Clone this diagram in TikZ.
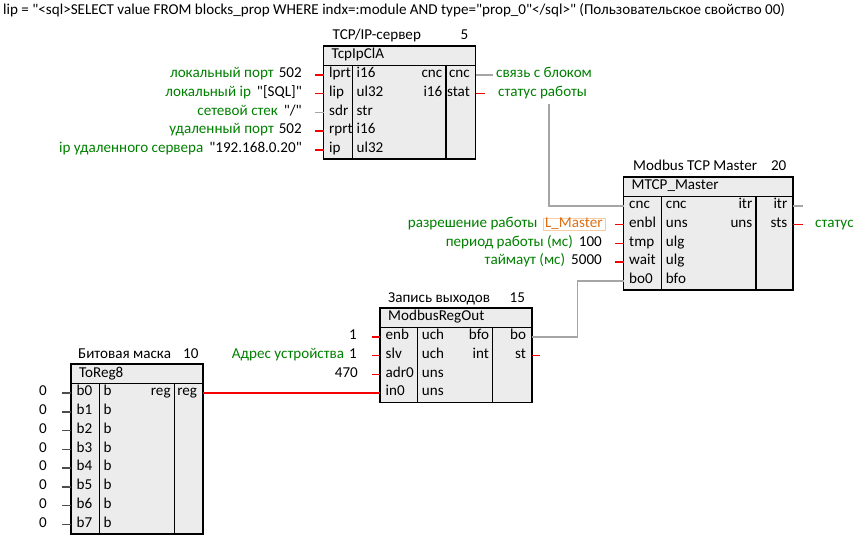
\documentclass[tikz,border=0pt]{standalone}
\usepackage{fontspec}
\setmainfont{Carlito}[Ligatures=TeXOff]
\definecolor{boxgray}{RGB}{236,236,236}
\definecolor{lblgreen}{RGB}{0,128,0}
\definecolor{wred}{RGB}{245,0,0}
\definecolor{wgray}{RGB}{165,165,165}
\definecolor{lmtext}{RGB}{220,110,20}
\definecolor{lmframe}{RGB}{248,205,165}
\newcommand\lab[1]{\textcolor{lblgreen}{#1}}
\tikzset{
  blockfill/.style={fill=boxgray},
  outerline/.style={draw=black, line width=1.8pt},
  innerline/.style={draw=black, line width=1.1pt},
  tl/.style={anchor=west, inner sep=0pt, text height=1.55ex, text depth=.35ex},
  tr/.style={anchor=east, inner sep=0pt, text height=1.55ex, text depth=.35ex},
  redw/.style={draw=wred, line width=1.5pt},
  grayw/.style={draw=wgray, line width=1.5pt},
  darkw/.style={draw=black!70, line width=1.5pt},
}
% #1 name, #2 left, #3 top, #4 right, #5 c1, #6 c2, #7 rows, #8 class, #9 row list
\newcommand\fblk[9]{%
  \pgfmathsetmacro\fbb{#3+19.5+#7*18.75}%
  \path[blockfill] (#2,#3) rectangle (#4,\fbb);
  \draw[innerline] (#2,#3+19.5) -- (#4,#3+19.5);
  \draw[innerline] (#5,#3+19.5) -- (#5,\fbb) (#6,#3+19.5) -- (#6,\fbb);
  \draw[outerline] (#2,#3) rectangle (#4,\fbb);
  \node[tl] (#1-cls) at (#2+8,#3+10) {#8};
  \foreach \a/\b/\c/\d [count=\i] in {#9}{%
    \pgfmathsetmacro\yy{#3+19.5+\i*18.75-9.375}%
    \coordinate (#1-l\i) at (#2,\yy);
    \coordinate (#1-r\i) at (#4,\yy);
    \node[tl] (#1-pi\i) at (#2+5.5,\yy) {\a};
    \node[tl] (#1-ty\i) at (#5+4,\yy) {\b};
    \node[tr] (#1-ot\i) at (#6-3.5,\yy) {\c};
    \node[tr] (#1-po\i) at (#4-5.5,\yy) {\d};
  }%
}
\begin{document}
\begin{tikzpicture}[x=1pt,y=-1pt,font=\fontsize{15.1}{17}\selectfont]
\useasboundingbox (0,0) rectangle (856,538);

% top caption
\node[tl] (caption) at (3,12) {lip = "<sql>SELECT value FROM blocks\_prop WHERE indx=:module AND type="prop\_0"</sql>" (Пользовательское свойство 00)};

% ---------- TcpIpClA ----------
\node[tl] (tcp-hd) at (323.5+9,46-9) {TCP/IP-сервер};
\node[tr] (tcp-no) at (475.5-7,46-9) {5};
\fblk{tcp}{323.5}{46}{475.5}{352.5}{446}{5}{TcpIpClA}{lprt/i16/cnc/cnc, lip/ul32/i16/stat, sdr/str//, rprt/i16//, ip/ul32//}

\node[tr,xshift=-21.5] (tcp-v1) at (tcp-l1) {\lab{локальный порт}\hspace{5pt}502};
\node[tr,xshift=-21.5] (tcp-v2) at (tcp-l2) {\lab{локальный ip}\hspace{6pt}"[SQL]"};
\node[tr,xshift=-21.5] (tcp-v3) at (tcp-l3) {\lab{сетевой стек}\hspace{6pt}"/"};
\node[tr,xshift=-21.5] (tcp-v4) at (tcp-l4) {\lab{удаленный порт}\hspace{5pt}502};
\node[tr,xshift=-21.5] (tcp-v5) at (tcp-l5) {\lab{ip удаленного сервера}\hspace{6pt}"192.168.0.20"};
\draw[redw] (tcp-l1) -- ++(-8.5,0);
\draw[redw] (tcp-l2) -- ++(-8.5,0);
\draw[grayw] (tcp-l3) -- ++(-8.5,0);
\draw[redw] (tcp-l4) -- ++(-8.5,0);
\draw[redw] (tcp-l5) -- ++(-8.5,0);

\draw[grayw] (tcp-r1) -- ++(17.5,0);
\node[tl,xshift=20.5] (tcp-o1) at (tcp-r1) {\lab{связь с блоком}};
\draw[redw] (tcp-r2) -- ++(9,0);
\node[tl,xshift=22.5] (tcp-o2) at (tcp-r2) {\lab{статус работы}};

% ---------- MTCP_Master ----------
\node[tl] (mtcp-hd) at (623.5+9.5,177-9) {Modbus TCP Master};
\node[tr] (mtcp-no) at (793-6.5,177-9) {20};
\fblk{mtcp}{623.5}{177}{793}{661.7}{756}{5}{MTCP\_Master}{cnc/cnc/itr/itr, enbl/uns/uns/sts, tmp/ulg//, wait/ulg//, bo0/bfo//}

\node[tr,xshift=-18,draw=lmframe,line width=0.8pt,inner xsep=2pt,inner ysep=1.5pt,text=lmtext,text width=58pt,align=left] (lmaster) at (mtcp-l2) {L\_Master};
\node[tr,xshift=-5] (mtcp-v2) at (lmaster.west) {\lab{разрешение работы}};
\node[tr,xshift=-21.5] (mtcp-v3) at (mtcp-l3) {\lab{период работы (мс)}\hspace{6pt}100};
\node[tr,xshift=-21.5] (mtcp-v4) at (mtcp-l4) {\lab{таймаут (мс)}\hspace{6pt}5000};
\draw[redw] (mtcp-l2) -- ++(-8.5,0);
\draw[redw] (mtcp-l3) -- ++(-8.5,0);
\draw[redw] (mtcp-l4) -- ++(-8.5,0);

\draw[grayw] (mtcp-r1) -- ++(10,0);
\draw[redw] (mtcp-r2) -- ++(10,0);
\node[tl,xshift=22] (mtcp-o2) at (mtcp-r2) {\lab{статус}};

\coordinate (stat-drop) at (549,104);
\draw[grayw] (stat-drop) |- (mtcp-l1);

% ---------- ModbusRegOut ----------
\node[tl] (mro-hd) at (380+8,308-8.5) {Запись выходов};
\node[tr] (mro-no) at (531.7-6.5,308-8.5) {15};
\fblk{mro}{380}{308}{531.7}{417.7}{492.7}{4}{ModbusRegOut}{enb/uch/bfo/bo, slv/uch/int/st, adr0/uns//, in0/uns//}

\node[tr,xshift=-23] (mro-v1) at (mro-l1) {1};
\node[tr,xshift=-23] (mro-v2) at (mro-l2) {\lab{Адрес устройства}\hspace{5pt}1};
\node[tr,xshift=-22] (mro-v3) at (mro-l3) {470};
\draw[redw] (mro-l1) -- ++(-8.5,0);
\draw[redw] (mro-l2) -- ++(-8.5,0);
\draw[redw] (mro-l3) -- ++(-8.5,0);
\draw[redw] (mro-r2) -- ++(8.5,0);

\draw[grayw] (mro-r1) -- ++(46,0) |- (mtcp-l5);

% ---------- ToReg8 ----------
\node[tl] (trg-hd) at (71+7,364.25-9) {Битовая маска};
\node[tr] (trg-no) at (202.7-4,364.25-9) {10};
\fblk{trg}{71}{364.25}{202.7}{99.3}{174.3}{8}{ToReg8}{b0/b/reg/reg, b1/b//, b2/b//, b3/b//, b4/b//, b5/b//, b6/b//, b7/b//}
\foreach \i in {1,...,8}{%
  \node[tr,xshift=-24] (trg-v\i) at (trg-l\i) {0};
  \draw[darkw] (trg-l\i) -- ++(-9,0);
}

\draw[redw] (trg-r1) -- (mro-l4);
\end{tikzpicture}
\end{document}
